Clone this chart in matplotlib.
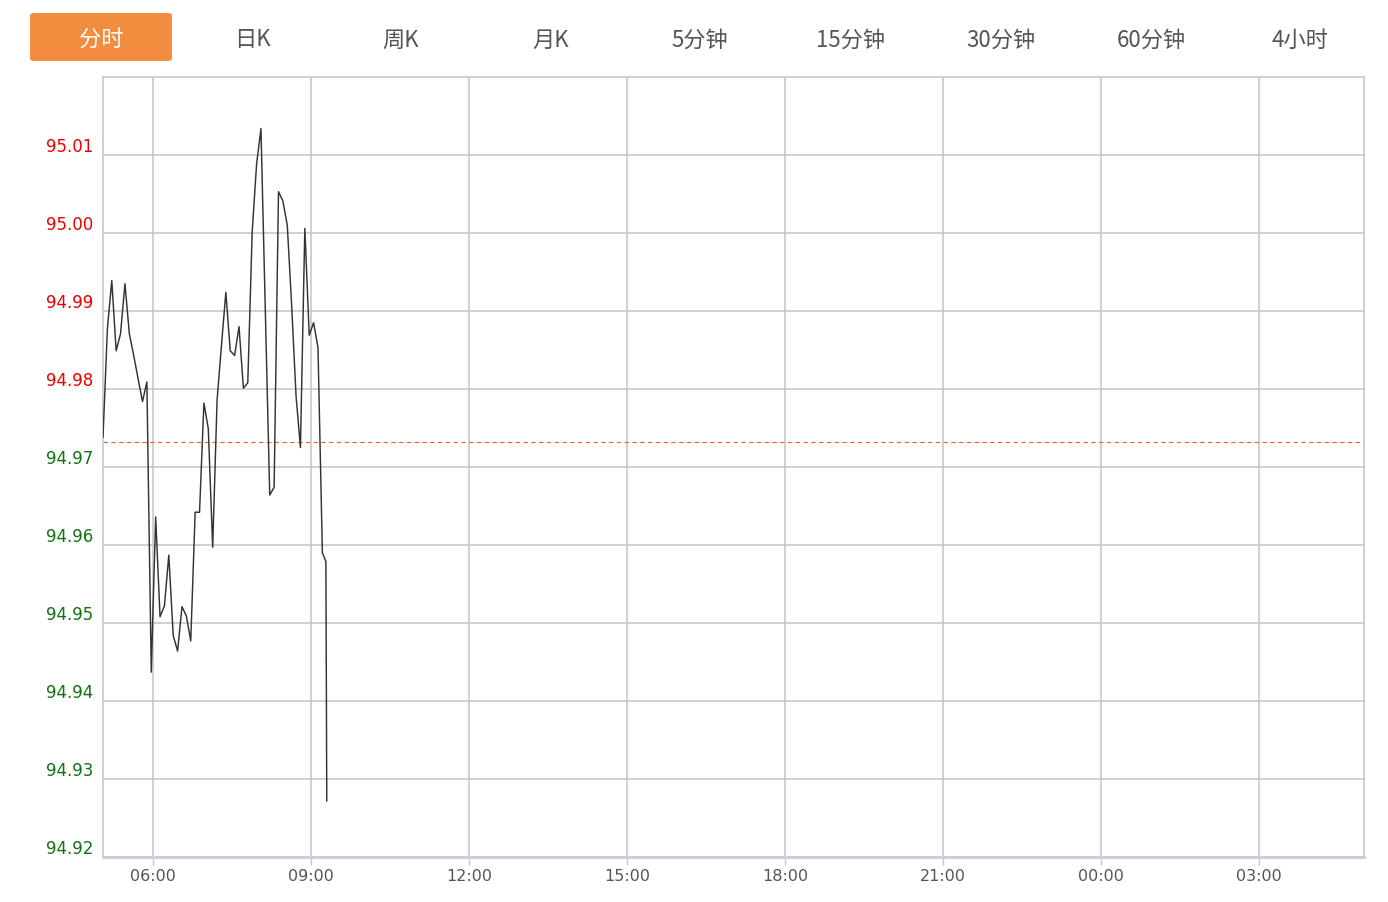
import matplotlib
matplotlib.use("Agg")
import matplotlib.pyplot as plt
from matplotlib.patches import FancyBboxPatch
from matplotlib.transforms import ScaledTranslation

plt.rcParams['font.family'] = ['DejaVu Sans']

# ---------------- data ----------------
tabs = ["分时", "日K", "周K", "月K", "5分钟", "15分钟", "30分钟", "60分钟", "4小时"]
active_tab = "分时"

times = ["05:03", "05:08", "05:13", "05:18", "05:23", "05:28", "05:33", "05:38", "05:43", "05:48",
         "05:53", "05:58", "06:03", "06:08", "06:13", "06:18", "06:23", "06:28", "06:33", "06:38",
         "06:43", "06:48", "06:53", "06:58", "07:03", "07:08", "07:13", "07:18", "07:23", "07:28",
         "07:33", "07:38", "07:43", "07:48", "07:53", "07:58", "08:03", "08:08", "08:13", "08:18",
         "08:23", "08:28", "08:33", "08:38", "08:43", "08:48", "08:53", "08:58", "09:03", "09:08",
         "09:13", "09:17", "09:18"]
prices = [94.9738, 94.9877, 94.9939, 94.9849, 94.9871, 94.9935, 94.9871, 94.9843, 94.9813, 94.9784,
          94.9809, 94.9437, 94.9636, 94.9508, 94.9522, 94.9587, 94.9484, 94.9464, 94.9521, 94.9509,
          94.9477, 94.9642, 94.9642, 94.9782, 94.9749, 94.9597, 94.9786, 94.9856, 94.9924, 94.9849,
          94.9843, 94.9880, 94.9801, 94.9808, 95.0001, 95.0088, 95.0134, 94.9899, 94.9664, 94.9674,
          95.0053, 95.0041, 95.0010, 94.9907, 94.9791, 94.9725, 95.0006, 94.9869, 94.9885, 94.9853,
          94.9590, 94.9579, 94.9272]
ref_price = 94.9732

y_ticks = [94.92, 94.93, 94.94, 94.95, 94.96, 94.97, 94.98, 94.99, 95.00, 95.01]
x_tick_labels = ["06:00", "09:00", "12:00", "15:00", "18:00", "21:00", "00:00", "03:00"]


def to_min(t):
    h, m = map(int, t.split(":"))
    v = h * 60 + m - 5 * 60
    if v < 0:
        v += 24 * 60
    return v


x_vals = [to_min(t) for t in times]
x_tick_pos = [to_min(t) for t in x_tick_labels]

# ---------------- figure ----------------
W, H = 1388, 903
fig = plt.figure(figsize=(W / 100, H / 100), dpi=100)
fig.patch.set_facecolor("white")

L, R, T, B = 103, 1364, 78, 858
ax = fig.add_axes([L / W, 1 - B / H, (R - L) / W, (B - T) / H])

grid_c = "#c8c8c8"
ax.plot(x_vals, prices, color="#333333", lw=1.05, zorder=3)
ax.axhline(ref_price, color="#e8602c", lw=0.8, ls=(0, (4, 3)), zorder=2)

ax.set_xlim(3, 1440)
ax.set_ylim(94.92, 95.02)

ax.set_yticks(y_ticks)
ax.set_yticklabels([f"{v:.2f}" for v in y_ticks])
for lab, v in zip(ax.get_yticklabels(), y_ticks):
    lab.set_color("#ee0000" if v > ref_price else "#137313")
    lab.set_verticalalignment("bottom")
    lab.set_fontsize(12)
    lab.set_transform(lab.get_transform() + ScaledTranslation(0, 1 / 100, fig.dpi_scale_trans))
ax.tick_params(axis="y", length=0, pad=7)

ax.set_xticks(x_tick_pos)
ax.set_xticklabels(x_tick_labels, fontsize=11.5, color="#555555")
ax.tick_params(axis="x", length=6, width=1, color=grid_c, pad=2)

ax.grid(True, color=grid_c, lw=1.2, zorder=0)
ax.set_axisbelow(True)
for s in ["left", "right", "top"]:
    ax.spines[s].set_color(grid_c)
    ax.spines[s].set_linewidth(1.2)
ax.spines["bottom"].set_color("#c5d0de")
ax.spines["bottom"].set_linewidth(2)

# ---------------- tabs ----------------
tab_centers = [101, 252, 401, 551, 700, 851, 1001, 1151, 1300]
for name, cx in zip(tabs, tab_centers):
    if name == active_tab:
        box = FancyBboxPatch((30 / W, 1 - 62 / H), 142 / W, 48 / H,
                             boxstyle="round,pad=0,rounding_size=0.003",
                             transform=fig.transFigure, facecolor="#f28c3f",
                             edgecolor="none")
        fig.patches.append(box)
        col = "white"
    else:
        col = "#555555"
    fig.text(cx / W, 1 - 40 / H, name, ha="center", va="center", fontsize=16,
             color=col, family=["Noto Sans CJK SC", "DejaVu Sans"])

fig.savefig("out.png", dpi=100, facecolor="white")
